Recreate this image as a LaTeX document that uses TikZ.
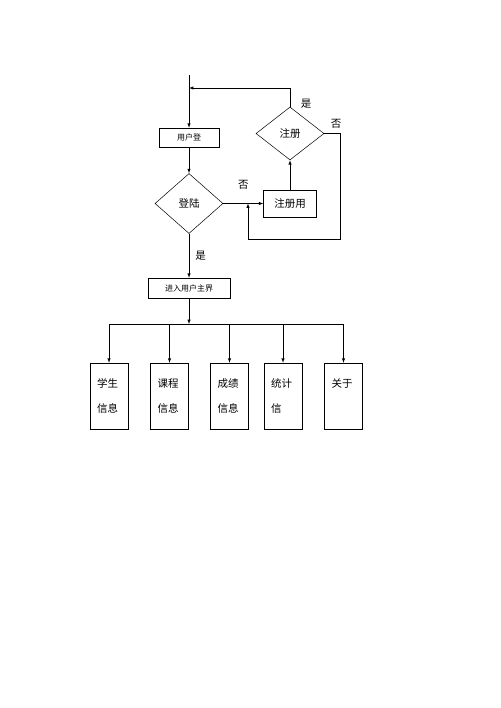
\documentclass[tikz,border=0pt]{standalone}
\usepackage{fontspec}
\setmainfont{Noto Sans CJK SC}
\usepackage{tikz}
\usetikzlibrary{shapes.geometric,arrows}
\tikzstyle{process}=[rectangle,draw=black,inner sep=0pt,text centered,font=\fontsize{8}{8}\selectfont]
\tikzstyle{decision}=[diamond,draw=black,inner sep=0pt,text centered,font=\fontsize{10.5}{12}\selectfont]
\tikzstyle{menu}=[rectangle,draw=black,inner xsep=7pt,text width=24pt,align=left,
minimum height=66pt,font=\fontsize{10.5}{25}\selectfont]
\tikzstyle{tag}=[font=\fontsize{10.5}{12}\selectfont,inner sep=0pt]
\tikzstyle{arrow}=[line width=0.5pt,->,>=latex]

\begin{document}
\begin{tikzpicture}[x=1pt,y=-1pt,line width=0.5pt]
        \useasboundingbox (0,0) rectangle (500,708);
        \coordinate (top) at (189,75);
        \coordinate (back) at (189,88);
        \node (login) [process,minimum width=60pt,minimum height=19pt] at (189,137.5) {用户登};
        \node (check) [decision,below of=login,node distance=66pt,minimum width=68pt,minimum height=60pt] {登陆};
        \node (regbox) [process,right of=check,node distance=101pt,minimum width=53pt,minimum height=27pt,font=\fontsize{10.5}{12}\selectfont] {注册用};
        \node (reg) [decision,above of=regbox,node distance=70pt,minimum width=68pt,minimum height=53pt] {注册};
        \node (main) [process,below of=check,node distance=84.5pt,minimum width=82pt,minimum height=20pt] {进入用户主界};
        \coordinate (c1) at (340,239);
        \coordinate (join) at (248,203.5);
        \coordinate (hub) at (189,324);

        \node (m1) [menu] at (109,396) {学生\\信息};
        \node (m2) [menu] at (169.5,396) {课程\\信息};
        \node (m3) [menu] at (229.5,396) {成绩\\信息};
        \node (m4) [menu] at (283,396) {统计\\信};
        \node (m5) [menu] at (343.5,396) {关于\\ \mbox{}};

        \node (yes1) [tag] at (306,104) {是};
        \node (no1) [tag] at (336,124) {否};

        \draw [arrow] (top) -- (login);
        \draw [arrow] (login) -- (check);
        \draw [arrow] (check) -- node (no2) [tag,anchor=south,yshift=14pt]{否} (regbox);
        \draw [arrow] (regbox) -- (reg);
        \draw [arrow] (reg) |- (back);
        \draw [arrow] (reg.east) -| (c1) -| (join);
        \draw [arrow] (check) -- node (yes2) [tag,anchor=west,xshift=6pt]{是} (main);
        \draw [arrow] (main) -- (hub);
        \draw (m1 |- hub) -- (m5 |- hub);
        \foreach \m in {m1,m2,m3,m4,m5}
            \draw [arrow] (\m |- hub) -- (\m);

    \end{tikzpicture}
\end{document}
